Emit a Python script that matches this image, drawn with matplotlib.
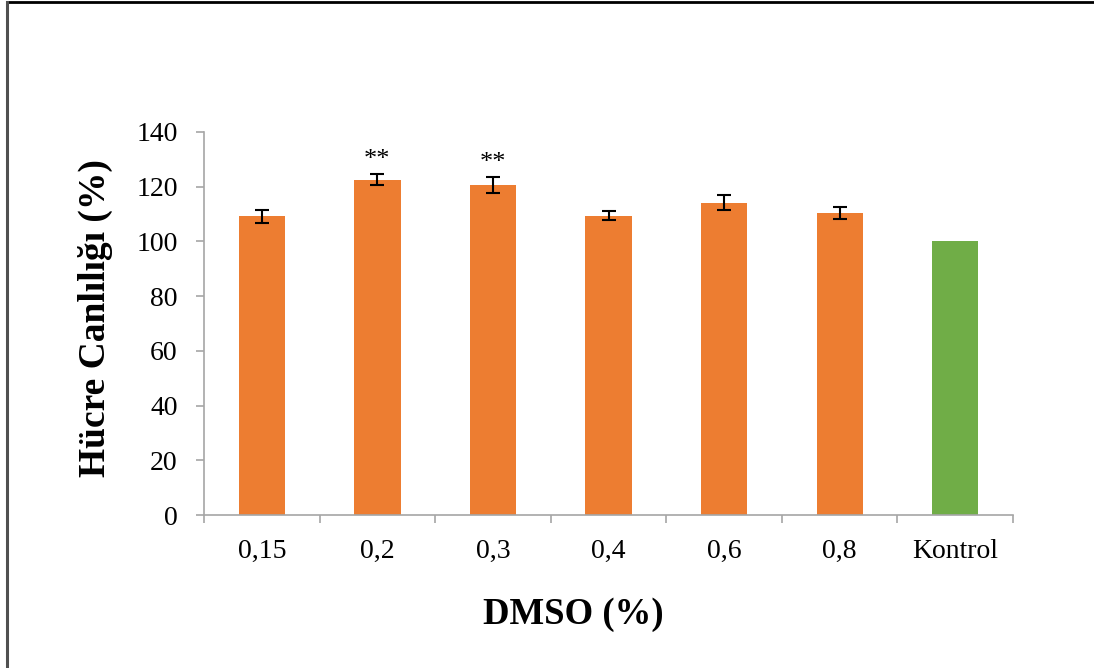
import numpy as np
import matplotlib.pyplot as plt
from matplotlib.lines import Line2D

# data
categories = ['0,15', '0,2', '0,3', '0,4', '0,6', '0,8', 'Kontrol']
viability = [109.2, 122.5, 120.6, 109.4, 114.2, 110.4, 100.0]
sd = [2.3, 2.0, 2.9, 1.7, 2.7, 2.3, 0.0]
stars = ['', '**', '**', '', '', '', '']

orange = '#ED7D31'
green = '#70AD47'
colors = [orange] * 6 + [green]

plt.rcParams['font.family'] = ['Liberation Serif', 'DejaVu Serif']

fig = plt.figure(figsize=(10.94, 6.68), dpi=100)
ax = fig.add_axes([0.1865, 0.229, 0.7395, 0.5734])

x = np.arange(len(categories))
ax.bar(x, viability, width=0.4, color=colors, zorder=2)
# error bars only where there is a deviation
for xi, v, e in zip(x, viability, sd):
    if e > 0:
        ax.errorbar(xi, v, yerr=e, fmt='none', ecolor='black', elinewidth=1.5,
                    capsize=4.7, capthick=1.5, zorder=3)
for xi, v, e, s in zip(x, viability, sd, stars):
    if s:
        ax.text(xi, v + e + 1.2, s, ha='center', va='bottom', fontsize=19)

ax.set_xlim(-0.5, len(categories) - 0.5)
ax.set_ylim(0, 140)
ax.set_yticks(np.arange(0, 141, 20))

# ticks on category boundaries, labels at centers
ax.set_xticks(np.arange(-0.5, len(categories)), minor=False)
ax.set_xticklabels([])
ax.set_xticks(x, minor=True)
ax.set_xticklabels(categories, minor=True)
ax.tick_params(axis='x', which='major', length=6, color='#a6a6a6', width=1.2)
ax.tick_params(axis='x', which='minor', length=0, pad=17, labelsize=20)
ax.tick_params(axis='y', length=6, color='#a6a6a6', width=1.2, pad=13, labelsize=20)

for side in ['top', 'right']:
    ax.spines[side].set_visible(False)
for side in ['left', 'bottom']:
    ax.spines[side].set_color('#a6a6a6')
    ax.spines[side].set_linewidth(1.2)

ax.set_xlabel('DMSO (%)', fontsize=26.5, fontweight='bold', va='center')
ax.set_ylabel('Hücre Canlılığı (%)', fontsize=27, fontweight='bold', va='center')
ax.xaxis.set_label_coords(0.456, -0.261)
ax.yaxis.set_label_coords(-0.1347, 0.514)

# frame around the figure (top and left edges)
fig.add_artist(Line2D([0.006, 0.999], [0.9965, 0.9965], color='black', lw=2))
fig.add_artist(Line2D([0.006, 0.006], [0.0, 0.9965], color='#505050', lw=2.2))

fig.savefig('out.png', dpi=100)
